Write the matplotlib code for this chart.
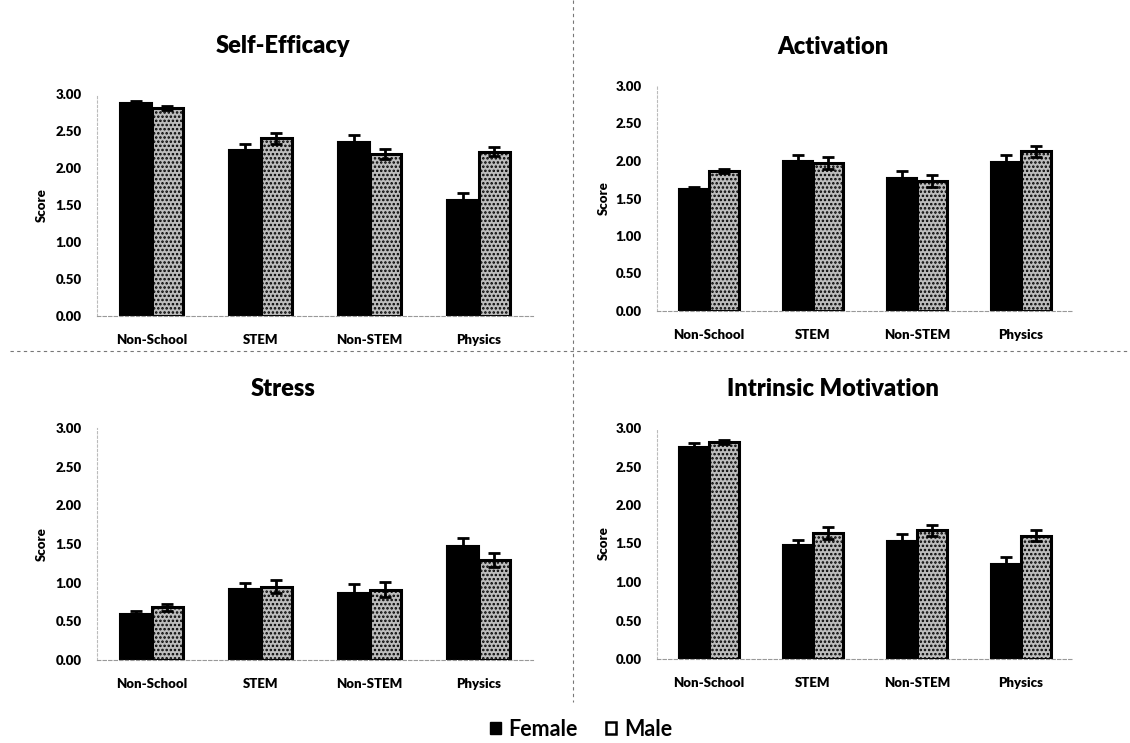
import matplotlib
matplotlib.use("Agg")
import matplotlib.pyplot as plt
import numpy as np
from matplotlib.lines import Line2D
from matplotlib.patches import Patch

plt.rcParams["font.family"] = ["Lato", "DejaVu Sans"]
plt.rcParams["hatch.linewidth"] = 1.2

categories = ["Non-School", "STEM", "Non-STEM", "Physics"]
yticks = [0.0, 0.5, 1.0, 1.5, 2.0, 2.5, 3.0]

titles = ["Self-Efficacy", "Activation", "Stress", "Intrinsic Motivation"]

female_self_efficacy = [2.88, 2.25, 2.35, 1.57]
male_self_efficacy = [2.81, 2.40, 2.19, 2.22]
female_self_efficacy_err = [0.03, 0.08, 0.10, 0.09]
male_self_efficacy_err = [0.03, 0.07, 0.07, 0.06]

female_activation = [1.63, 2.00, 1.77, 1.99]
male_activation = [1.87, 1.97, 1.73, 2.13]
female_activation_err = [0.03, 0.08, 0.10, 0.09]
male_activation_err = [0.03, 0.08, 0.08, 0.07]

female_stress = [0.59, 0.92, 0.86, 1.48]
male_stress = [0.68, 0.95, 0.91, 1.29]
female_stress_err = [0.05, 0.08, 0.12, 0.10]
male_stress_err = [0.04, 0.08, 0.10, 0.09]

female_intrinsic = [2.75, 1.48, 1.53, 1.24]
male_intrinsic = [2.82, 1.64, 1.67, 1.60]
female_intrinsic_err = [0.05, 0.07, 0.09, 0.09]
male_intrinsic_err = [0.03, 0.08, 0.07, 0.07]

panels = [
    (female_self_efficacy, male_self_efficacy, female_self_efficacy_err, male_self_efficacy_err),
    (female_activation, male_activation, female_activation_err, male_activation_err),
    (female_stress, male_stress, female_stress_err, male_stress_err),
    (female_intrinsic, male_intrinsic, female_intrinsic_err, male_intrinsic_err),
]

W, H = 1130, 743
fig = plt.figure(figsize=(W / 100, H / 100), dpi=100)
fig.patch.set_facecolor("white")

# axes boxes in pixels: left, right, bottom, top
boxes = [
    (97, 533, 316, 94),
    (657, 1073, 311, 86),
    (97, 533, 660, 428),
    (657, 1073, 659, 428),
]
title_pos = [(283, 46), (833, 47), (283, 389), (833, 389)]
ylabel_x = [42, 604, 42, 604]

male_face = "#bdbdbd"
bar_w = 0.29
x = np.arange(len(categories))
wt = "heavy"

for i, (box, data) in enumerate(zip(boxes, panels)):
    l, r, b, t = box
    ax = fig.add_axes([l / W, 1 - b / H, (r - l) / W, (b - t) / H])
    f, m, fe, me = data
    ax.bar(x - bar_w / 2, f, bar_w, color="black", edgecolor="black", linewidth=1.5, zorder=2)
    ax.bar(x + bar_w / 2, m, bar_w, color=male_face, edgecolor="black",
           hatch="....", linewidth=2.2, zorder=2)
    ax.errorbar(x - bar_w / 2, f, yerr=fe, fmt="none", ecolor="black",
                elinewidth=2.0, capsize=4, capthick=2.0, zorder=3)
    ax.errorbar(x + bar_w / 2, m, yerr=me, fmt="none", ecolor="black",
                elinewidth=2.0, capsize=4, capthick=2.0, zorder=3)
    ax.set_xlim(-0.5, len(categories) - 0.5)
    ax.set_ylim(0, 3.0)
    ax.set_yticks(yticks)
    ax.set_yticklabels([f"{v:.2f}" for v in yticks], fontsize=9.5, fontweight=wt)
    ax.set_xticks(x)
    ax.set_xticklabels(categories, fontsize=9.5, fontweight=wt)
    ax.tick_params(axis="y", length=0, pad=11)
    ax.tick_params(axis="x", length=0, pad=13)
    for side in ("top", "right"):
        ax.spines[side].set_visible(False)
    ax.spines["left"].set_color("#bbbbbb")
    ax.spines["left"].set_linestyle((0, (2, 2)))
    ax.spines["left"].set_linewidth(0.8)
    ax.spines["bottom"].set_color("#999999")
    ax.spines["bottom"].set_linestyle((0, (3, 2)))
    ax.spines["bottom"].set_linewidth(0.8)
    ax.set_facecolor("none")
    tx, ty = title_pos[i]
    fig.text(tx / W, 1 - ty / H, titles[i], ha="center", va="center",
             fontsize=17, fontweight=wt)
    fig.text(ylabel_x[i] / W, 1 - ((b + t) / 2) / H, "Score", rotation=90,
             ha="center", va="center", fontsize=9.5, fontweight=wt)

# quadrant dividers
fig.add_artist(Line2D([10 / W, 1.0], [1 - 351 / H, 1 - 351 / H], color="#777777",
                      linewidth=0.8, linestyle=(0, (3, 3))))
fig.add_artist(Line2D([573 / W, 573 / W], [1.0, 1 - 702 / H], color="#777777",
                      linewidth=0.8, linestyle=(0, (3, 3))))

handles = [Patch(facecolor="black", edgecolor="black"),
           Patch(facecolor="white", edgecolor="black", linewidth=1.8)]
fig.legend(handles, ["Female", "Male"], loc="center", bbox_to_anchor=(581 / W, 1 - 729 / H),
           ncol=2, frameon=False, prop={"size": 15.5, "weight": "bold"},
           handlelength=0.5, handleheight=0.5,
           handletextpad=0.35, columnspacing=1.3)

fig.savefig("out.png", dpi=100, facecolor="white")
